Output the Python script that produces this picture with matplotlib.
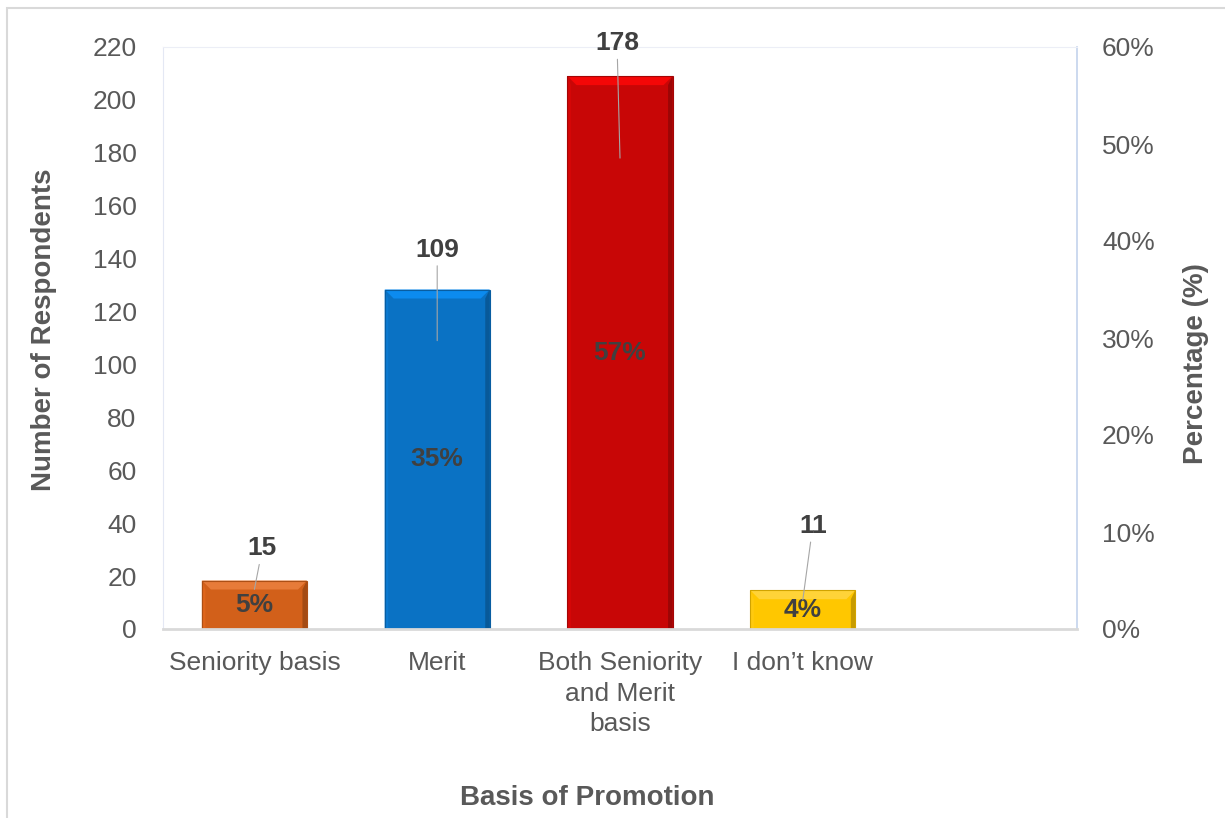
import matplotlib
matplotlib.use("Agg")
import matplotlib.pyplot as plt
from matplotlib.patches import Rectangle, Polygon
from matplotlib.ticker import PercentFormatter
import colorsys
import matplotlib.colors as mcolors

plt.rcParams['font.family'] = ['Liberation Sans', 'DejaVu Sans']

# data
categories = ["Seniority basis", "Merit", "Both Seniority\nand Merit\nbasis", "I don\u2019t know"]
counts = [15, 109, 178, 11]
percents = [0.05, 0.35, 0.57, 0.04]
bar_colors = ["#D2601A", "#0A72C4", "#C80606", "#FFC700"]

# label offsets (pixels) for the dragged count labels
label_offsets = [(8, 41), (0, 91), (-3, 115), (10, 74)]

tick_gray = "#595959"
label_dark = "#404040"


def shade(color, factor):
    r, g, b = mcolors.to_rgb(color)
    h, l, s = colorsys.rgb_to_hls(r, g, b)
    l = max(0, min(1, l * factor))
    return colorsys.hls_to_rgb(h, l, s)


fig = plt.figure(figsize=(12.25, 8.18), dpi=100)
fig.patches.append(Rectangle((7 / 1225, -0.05), 1.1, 1 - 8 / 818 + 0.05,
                             transform=fig.transFigure, fill=False,
                             edgecolor="#d9d9d9", lw=1.5))

ax1 = fig.add_axes([163 / 1225, 1 - 629 / 818, 914 / 1225, 582 / 818])
ax2 = ax1.twinx()

n_slots = len(categories) + 1
x = list(range(len(categories)))

# bars are drawn against the percentage axis
bars = ax2.bar(x, percents, width=0.575, color=bar_colors, zorder=2)

# simple bevel on each bar
px_x = n_slots / 914.0
px_y = 0.6 / 582.0
for b, c in zip(bars, bar_colors):
    x0, w, h = b.get_x(), b.get_width(), b.get_height()
    dx, dy = 9 * px_x, 9 * px_y
    top = Polygon([(x0, h), (x0 + w, h), (x0 + w - dx, h - dy), (x0 + dx, h - dy)],
                  closed=True, facecolor=shade(c, 1.22), edgecolor="none", zorder=3)
    left = Polygon([(x0, 0), (x0, h), (x0 + dx * 0.4, h - dy), (x0 + dx * 0.4, 0)],
                   closed=True, facecolor=shade(c, 1.06), edgecolor="none", zorder=3)
    right = Polygon([(x0 + w, 0), (x0 + w, h), (x0 + w - dx * 0.5, h - dy), (x0 + w - dx * 0.5, 0)],
                    closed=True, facecolor=shade(c, 0.78), edgecolor="none", zorder=3)
    for p in (top, left, right):
        ax2.add_patch(p)
    ax2.add_patch(Rectangle((x0, 0), w, h, fill=False, edgecolor=shade(c, 0.82),
                            lw=0.8, zorder=4))

for xi, p in zip(x, percents):
    ax2.text(xi, p / 2, f"{p * 100:.0f}%", ha="center", va="center",
             fontsize=19, fontweight="bold", color=label_dark, zorder=5)

ax1.set_zorder(ax2.get_zorder() + 1)
ax1.patch.set_visible(False)

# count labels with leader lines, placed against the respondents axis
for xi, c, off in zip(x, counts, label_offsets):
    ax1.annotate(str(c), xy=(xi, c), xytext=off, textcoords="offset pixels",
                 ha="center", va="center", fontsize=19, fontweight="bold",
                 color=label_dark,
                 arrowprops=dict(arrowstyle="-", color="#a6a6a6", lw=0.8,
                                 shrinkA=1, shrinkB=0))

ax1.set_xlim(-0.5, n_slots - 0.5)
ax1.set_ylim(0, 220)
ax1.set_yticks(range(0, 221, 20))
ax2.set_ylim(0, 0.6)
ax2.set_yticks([i / 10 for i in range(7)])
ax2.yaxis.set_major_formatter(PercentFormatter(1.0, decimals=0))

ax1.set_xticks(x)
ax1.set_xticklabels(categories, linespacing=1.34)
ax1.tick_params(axis="x", length=0, pad=16, labelsize=19, labelcolor=tick_gray)
ax1.tick_params(axis="y", length=0, pad=19, labelsize=19, labelcolor=tick_gray)
ax2.tick_params(axis="y", length=0, pad=18, labelsize=19, labelcolor=tick_gray)

for ax in (ax1, ax2):
    for s in ax.spines.values():
        s.set_visible(False)
ax1.spines["left"].set_visible(True)
ax1.spines["left"].set_color("#e4e8f4")
ax1.spines["top"].set_visible(True)
ax1.spines["top"].set_color("#eceef6")
ax1.spines["right"].set_visible(True)
ax1.spines["right"].set_color("#c3d3ec")
ax1.spines["right"].set_linewidth(1.2)
ax1.spines["bottom"].set_visible(True)
ax1.spines["bottom"].set_color("#d9d9d9")
ax1.spines["bottom"].set_linewidth(2)

fig.text(44 / 1225, 1 - 330 / 818, "Number of Respondents", rotation=90,
         ha="center", va="center", fontsize=20, fontweight="bold", color=tick_gray)
fig.text(1196 / 1225, 1 - 364 / 818, "Percentage (%)", rotation=90,
         ha="center", va="center", fontsize=20, fontweight="bold", color=tick_gray)
fig.text(587 / 1225, 1 - 798 / 818, "Basis of Promotion",
         ha="center", va="center", fontsize=20, fontweight="bold", color=tick_gray)

fig.savefig("out.png", dpi=100)
